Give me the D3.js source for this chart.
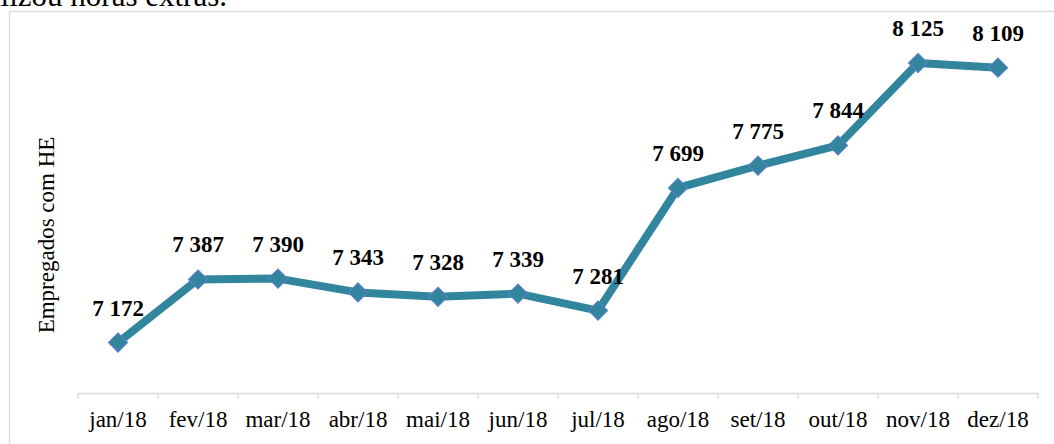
<!DOCTYPE html>
<html lang="pt">
<head>
    <meta charset="UTF-8">
    <title>Empregados com HE</title>
    <style>
        body { margin: 0; background: #fff; overflow: hidden; }
        svg { display: block; font-family: 'Liberation Serif', 'Times New Roman', serif; }
        .axis path, .axis line { stroke: #d9d9d9; stroke-width: 1.3px; }
        .axis text { font-size: 23px; fill: #000; font-family: 'Liberation Serif', 'Times New Roman', serif; }
        .lbl { font-size: 23px; font-weight: bold; fill: #000; }
    </style>
</head>
<body>
    <svg id="chart" width="1054" height="444"></svg>
    <script src="https://d3js.org/d3.v7.min.js"></script>
    <script>
        const months = ["jan/18", "fev/18", "mar/18", "abr/18", "mai/18", "jun/18",
                        "jul/18", "ago/18", "set/18", "out/18", "nov/18", "dez/18"];
        const employees = [7172, 7387, 7390, 7343, 7328, 7339, 7281, 7699, 7775, 7844, 8125, 8109];
        const yTitle = "Empregados com HE";

        const svg = d3.select("#chart");
        const fmt = v => d3.format(",")(v).replace(",", " ");

        // cut-off sentence from the page above the chart
        svg.append("text")
            .attr("x", 227).attr("y", 6)
            .attr("text-anchor", "end")
            .style("font-size", "31px")
            .text("realizou horas extras.");

        // chart frame (runs off the right and bottom edges)
        svg.append("rect")
            .attr("x", 9.5).attr("y", 11.5)
            .attr("width", 1060).attr("height", 450)
            .attr("fill", "none")
            .attr("stroke", "#d9d9d9")
            .attr("stroke-width", 1.3);

        const x = d3.scaleBand().domain(months).range([78, 1038]);
        const y = d3.scaleLinear().domain([7000, 8200]).range([393, 41]);

        const xAxis = svg.append("g")
            .attr("class", "axis")
            .attr("transform", "translate(0,393)")
            .call(d3.axisBottom(x).tickSize(0).tickSizeOuter(0));
        xAxis.selectAll(".tick line").remove();
        xAxis.selectAll("text").attr("dy", null).attr("y", 34);
        // ticks on band borders
        xAxis.selectAll(".border")
            .data(d3.range(months.length + 1))
            .enter().append("line")
            .attr("x1", i => 78 + i * x.step()).attr("x2", i => 78 + i * x.step())
            .attr("y1", 0).attr("y2", 6);

        svg.append("text")
            .attr("transform", "translate(54,235) rotate(-90)")
            .attr("text-anchor", "middle")
            .style("font-size", "23px")
            .text(yTitle);

        const pts = months.map((m, i) => ({ m, v: employees[i] }));
        const cx = d => x(d.m) + x.bandwidth() / 2;

        svg.append("path")
            .datum(pts)
            .attr("fill", "none")
            .attr("stroke", "#31859c")
            .attr("stroke-width", 8)
            .attr("stroke-linejoin", "round")
            .attr("d", d3.line().x(cx).y(d => y(d.v)));

        svg.selectAll(".mk")
            .data(pts)
            .enter().append("path")
            .attr("class", "mk")
            .attr("d", d3.symbol(d3.symbolDiamond2, 230)())
            .attr("transform", d => `translate(${cx(d)},${y(d.v)})`)
            .attr("fill", "#31859c")
            .attr("stroke", "#5a7fc8")
            .attr("stroke-width", 1.2);

        svg.selectAll(".lbl")
            .data(pts)
            .enter().append("text")
            .attr("class", "lbl")
            .attr("x", cx)
            .attr("y", d => y(d.v) - 27)
            .attr("text-anchor", "middle")
            .text(d => fmt(d.v));
    </script>
</body>
</html>
